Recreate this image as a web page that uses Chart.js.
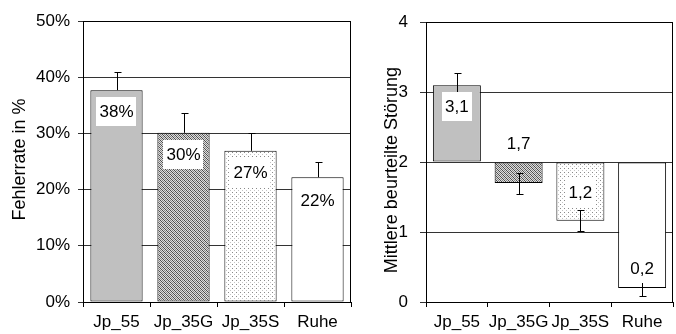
<!DOCTYPE html>
<html>
<head>
<meta charset="utf-8">
<script src="https://cdn.jsdelivr.net/npm/chart.js@4"></script>
<style>
    body { margin: 0; background: #fff; }
    #wrap { position: relative; width: 676px; height: 334px; }
    #left { position: absolute; left: 0; top: 0; }
    #right { position: absolute; left: 356px; top: 0; }
</style>
</head>
<body>
<div id="wrap">
    <canvas id="left" width="356" height="334"></canvas>
    <canvas id="right" width="320" height="334"></canvas>
</div>
<script>
// Data
const categories = ['Jp_55', 'Jp_35G', 'Jp_35S', 'Ruhe'];
const errorRate = [37.7, 30.1, 26.9, 22.2];
const errorRateErr = [3.3, 3.6, 3.2, 2.8];
const errorRateTicks = [0, 10, 20, 30, 40, 50];
const disturbance = [3.1, 1.7, 1.16, 0.2];
const disturbanceErr = [0.17, 0.15, 0.15, 0.12];
const disturbanceTicks = [0, 1, 2, 3, 4];
const disturbanceBase = 2;

const FAMILY = '"Liberation Sans", Arial, sans-serif';
const FONT = { family: FAMILY, size: 17 };
Chart.defaults.font.family = FAMILY;
Chart.defaults.color = '#000';

// Fill patterns like the old Excel ones
function hatchPattern(ctx) {
    const c = document.createElement('canvas');
    c.width = 4; c.height = 4;
    const g = c.getContext('2d');
    for (let x = 0; x < 4; x++) {
        for (let y = 0; y < 4; y++) {
            if ((x + y) % 2 === 0) {
                g.fillStyle = (x - y + 4) % 4 === 0 ? '#4c4c4c' : '#858585';
            } else {
                g.fillStyle = '#dedede';
            }
            g.fillRect(x, y, 1, 1);
        }
    }
    return ctx.createPattern(c, 'repeat');
}

function dotPattern(ctx) {
    const c = document.createElement('canvas');
    c.width = 4; c.height = 4;
    const g = c.getContext('2d');
    g.fillStyle = '#fff';
    g.fillRect(0, 0, 4, 4);
    g.fillStyle = '#8a8a8a';
    g.fillRect(0, 0, 1, 1);
    g.fillStyle = '#c4c4c4';
    g.fillRect(2, 2, 1, 1);
    return ctx.createPattern(c, 'repeat');
}

function fills(ctx) {
    return ['#c0c0c0', hatchPattern(ctx), dotPattern(ctx), '#ffffff'];
}

// Frame round the plot area
const frame = {
    id: 'frame',
    afterDraw(chart) {
        const a = chart.chartArea;
        const ctx = chart.ctx;
        ctx.save();
        ctx.strokeStyle = '#000';
        ctx.lineWidth = 1;
        ctx.strokeRect(Math.round(a.left) + 0.5, Math.round(a.top) + 0.5,
            Math.round(a.right - a.left) - 1, Math.round(a.bottom - a.top));
        ctx.restore();
    }
};

// Rotated y axis title
const sideTitle = {
    id: 'sideTitle',
    afterDraw(chart, args, opts) {
        const a = chart.chartArea;
        const ctx = chart.ctx;
        ctx.save();
        ctx.translate(opts.x, (a.top + a.bottom) / 2 + opts.dy);
        ctx.rotate(-Math.PI / 2);
        ctx.font = '18px ' + FAMILY;
        ctx.fillStyle = '#000';
        ctx.textAlign = 'center';
        ctx.textBaseline = 'middle';
        ctx.fillText(opts.text, 0, 0);
        ctx.restore();
    }
};

// Error bars and value labels
const barExtras = {
    id: 'barExtras',
    afterDatasetsDraw(chart, args, opts) {
        const ctx = chart.ctx;
        const meta = chart.getDatasetMeta(0);
        const y = chart.scales.y;
        const vals = chart.data.datasets[0].data;
        ctx.save();
        ctx.strokeStyle = '#000';
        ctx.lineWidth = 1;
        meta.data.forEach((bar, i) => {
            const x = Math.round(bar.x) + 0.5;
            const e = opts.errors[i];
            const top = Math.round(y.getPixelForValue(vals[i] + e)) + 0.5;
            const bot = opts.minus ? Math.round(y.getPixelForValue(vals[i] - e)) + 0.5 : bar.y;
            ctx.beginPath();
            ctx.moveTo(x, top); ctx.lineTo(x, bot);
            ctx.moveTo(x - 3, top); ctx.lineTo(x + 4, top);
            if (opts.minus) { ctx.moveTo(x - 3, bot); ctx.lineTo(x + 4, bot); }
            ctx.stroke();
        });

        ctx.font = FONT.size + 'px ' + FAMILY;
        ctx.textAlign = 'center';
        ctx.textBaseline = 'middle';
        meta.data.forEach((bar, i) => {
            const txt = opts.format(vals[i]);
            const cy = bar.y + opts.offsets[i];
            const w = ctx.measureText(txt).width + 6;
            ctx.fillStyle = '#fff';
            ctx.fillRect(Math.round(bar.x - w / 2), Math.round(cy - 14), Math.round(w), 29);
            ctx.fillStyle = '#000';
            ctx.fillText(txt, bar.x, cy + 1);
        });
        ctx.restore();
    }
};

function axisOptions(cfg) {
    return {
        x: {
            afterFit: s => { s.height = 32; },
            grid: { drawOnChartArea: false, tickLength: 5, color: '#000', offset: true },
            border: { color: '#000' },
            ticks: { padding: 5, color: '#000', font: FONT, autoSkip: false, maxRotation: 0 }
        },
        y: {
            min: cfg.ticks[0],
            max: cfg.ticks[cfg.ticks.length - 1],
            afterBuildTicks: s => { s.ticks = cfg.ticks.map(v => ({ value: v })); },
            afterFit: s => { s.width = cfg.width; },
            grid: { color: '#333', tickLength: cfg.tickLength },
            border: { color: '#000' },
            ticks: { padding: cfg.tickPad, color: '#000', font: FONT, callback: cfg.tickFormat }
        }
    };
}

// Left chart: error rate
const leftCtx = document.getElementById('left').getContext('2d');
new Chart(leftCtx, {
    type: 'bar',
    data: {
        labels: categories,
        datasets: [{
            data: errorRate,
            backgroundColor: fills(leftCtx),
            borderColor: '#000',
            borderWidth: 1,
            borderSkipped: false,
            categoryPercentage: 0.78,
            barPercentage: 1
        }]
    },
    options: {
        responsive: false,
        animation: false,
        layout: { padding: { top: 21, right: 5, left: 0, bottom: 0 } },
        plugins: {
            legend: { display: false },
            tooltip: { enabled: false },
            sideTitle: { text: 'Fehlerrate in %', x: 20, dy: -2 },
            barExtras: {
                errors: errorRateErr,
                minus: false,
                offsets: [21, 21, 21, 23],
                format: v => Math.round(v) + '%'
            }
        },
        scales: axisOptions({
            ticks: errorRateTicks, width: 83, tickLength: 5, tickPad: 8,
            tickFormat: v => v + '%'
        })
    },
    plugins: [frame, sideTitle, barExtras]
});

// Right chart: rated disturbance, bars float from 2
const rightCtx = document.getElementById('right').getContext('2d');
new Chart(rightCtx, {
    type: 'bar',
    data: {
        labels: categories,
        datasets: [{
            data: disturbance,
            base: disturbanceBase,
            backgroundColor: fills(rightCtx),
            borderColor: '#000',
            borderWidth: 1,
            borderSkipped: false,
            categoryPercentage: 0.777,
            barPercentage: 1
        }]
    },
    options: {
        responsive: false,
        animation: false,
        layout: { padding: { top: 21, right: 3, left: 0, bottom: 0 } },
        plugins: {
            legend: { display: false },
            tooltip: { enabled: false },
            sideTitle: { text: 'Mittlere beurteilte Störung', x: 36, dy: 8 },
            barExtras: {
                errors: disturbanceErr,
                minus: true,
                offsets: [21, -40, -29, -20],
                format: v => v.toFixed(1).replace('.', ',')
            }
        },
        scales: axisOptions({
            ticks: disturbanceTicks, width: 70, tickLength: 6, tickPad: 12,
            tickFormat: v => v
        })
    },
    plugins: [frame, sideTitle, barExtras]
});
</script>
</body>
</html>
